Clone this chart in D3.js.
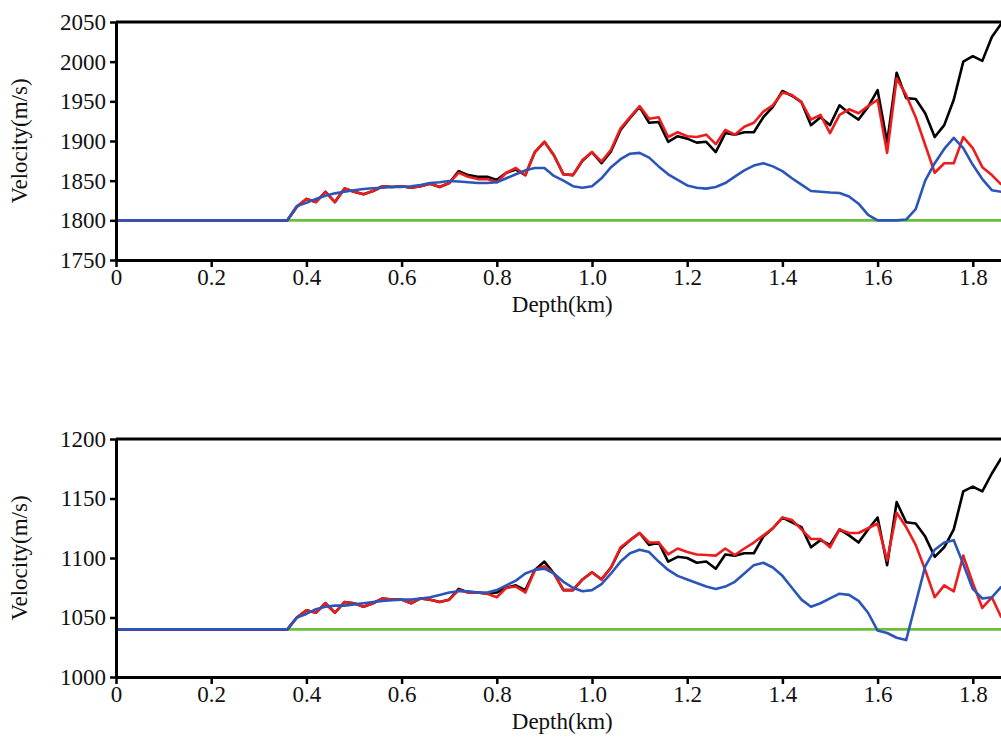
<!DOCTYPE html>
<html>
<head>
<meta charset="utf-8">
<script src="https://cdn.jsdelivr.net/npm/d3@7/dist/d3.min.js"></script>
<style>
  body { margin: 0; background: #fff; }
  svg { display: block; }
  svg text { font-family: "Times New Roman", "Liberation Serif", "DejaVu Serif", serif; }
</style>
</head>
<body>
<svg width="1001" height="737"></svg>
<script>
// depth samples (km), shared by every curve
var depth = [0, 0.36, 0.38, 0.40, 0.42, 0.44, 0.46, 0.48, 0.50, 0.52, 0.54, 0.56, 0.58, 0.60, 0.62, 0.64,
    0.66, 0.68, 0.70, 0.72, 0.74, 0.76, 0.78, 0.80, 0.82, 0.84, 0.86, 0.88, 0.90, 0.92, 0.94, 0.96, 0.98,
    1.00, 1.02, 1.04, 1.06, 1.08, 1.10, 1.12, 1.14, 1.16, 1.18, 1.20, 1.22, 1.24, 1.26, 1.28, 1.30, 1.32,
    1.34, 1.36, 1.38, 1.40, 1.42, 1.44, 1.46, 1.48, 1.50, 1.52, 1.54, 1.56, 1.58, 1.60, 1.62, 1.64, 1.66,
    1.68, 1.70, 1.72, 1.74, 1.76, 1.78, 1.80, 1.82, 1.84, 1.86];

// upper panel
var topBlack = [1800, 1800, 1817, 1827, 1823, 1836, 1823, 1840, 1836, 1833, 1837, 1843, 1842, 1843, 1841, 1843,
    1846, 1842, 1847, 1862, 1857, 1855, 1855, 1851, 1860, 1864, 1857, 1886, 1899, 1882, 1858, 1857, 1875,
    1886, 1872, 1887, 1914, 1929, 1943, 1923, 1924, 1899, 1906, 1903, 1898, 1899, 1886, 1910, 1908, 1911,
    1911, 1930, 1943, 1963, 1957, 1949, 1920, 1930, 1920, 1945, 1935, 1927, 1943, 1964, 1898, 1986, 1954,
    1953, 1935, 1905, 1920, 1952, 2000, 2007, 2001, 2031, 2048];
var topRed = [1800, 1800, 1817, 1827, 1823, 1836, 1823, 1840, 1836, 1833, 1837, 1843, 1842, 1843, 1841, 1843,
    1846, 1842, 1847, 1860, 1855, 1852, 1852, 1848, 1860, 1866, 1857, 1886, 1899, 1882, 1858, 1857, 1876,
    1886, 1874, 1889, 1916, 1930, 1944, 1928, 1930, 1905, 1911, 1906, 1905, 1908, 1896, 1914, 1908, 1918,
    1923, 1937, 1945, 1961, 1958, 1949, 1927, 1933, 1910, 1933, 1940, 1935, 1944, 1952, 1885, 1979, 1958,
    1930, 1895, 1860, 1872, 1872, 1905, 1891, 1867, 1857, 1845];
var topBlue = [1800, 1800, 1818, 1822, 1827, 1831, 1834, 1836, 1838, 1839.5, 1840.5, 1841, 1842, 1842, 1843, 1844.5,
    1847, 1848, 1849.5, 1849, 1848, 1847, 1847, 1848, 1853, 1858, 1863, 1866, 1866, 1856, 1850, 1843, 1841,
    1843, 1853, 1867, 1877, 1884, 1885, 1879, 1868, 1858, 1851, 1844, 1841, 1840, 1842, 1847, 1855, 1863,
    1869, 1872, 1868, 1862, 1853, 1845, 1837, 1836, 1835, 1834.5, 1830, 1821, 1807, 1800, 1800, 1800, 1801,
    1814, 1850, 1872, 1890, 1904, 1891, 1870, 1852, 1838, 1836];
var topGreen = 1800;
var topTicks = [1750, 1800, 1850, 1900, 1950, 2000, 2050];

// lower panel
var botBlack = [1040, 1040, 1050, 1056, 1054, 1062, 1054, 1063, 1062, 1059, 1062, 1066, 1065, 1065, 1062, 1066,
    1065, 1063, 1065, 1074, 1071, 1071, 1070, 1071, 1075, 1077, 1073, 1090, 1097, 1087, 1073, 1073, 1082,
    1088, 1082, 1092, 1108, 1115, 1121, 1111, 1113, 1097, 1101, 1100, 1096, 1097, 1091, 1103, 1102, 1104,
    1104, 1118, 1125, 1134, 1130, 1126, 1109, 1115, 1111, 1124, 1119, 1113, 1124, 1134, 1094, 1147, 1130,
    1129, 1118, 1101, 1109, 1124, 1156, 1160, 1156, 1171, 1184];
var botRed = [1040, 1040, 1050, 1056, 1054, 1062, 1054, 1063, 1062, 1059, 1062, 1066, 1065, 1065, 1062, 1066,
    1065, 1063, 1065, 1073, 1071, 1071, 1070, 1067, 1075, 1076, 1071, 1090, 1093, 1087, 1073, 1073, 1082,
    1088, 1082, 1092, 1109, 1115, 1121, 1113, 1113, 1103, 1108, 1105, 1103, 1102.5, 1102, 1108, 1102.5, 1108,
    1113, 1119, 1125, 1134, 1132, 1124, 1116, 1116, 1109, 1124, 1121, 1121, 1125, 1129, 1098, 1138, 1126,
    1111, 1090, 1067, 1077, 1072, 1102, 1079, 1058, 1067, 1050];
var botBlue = [1040, 1040, 1050, 1053, 1057, 1059, 1060, 1060, 1061, 1062, 1063, 1064, 1064.5, 1065, 1065, 1066,
    1067, 1069, 1071, 1072, 1072, 1071, 1071, 1073, 1077, 1081, 1087, 1090, 1091, 1087, 1080, 1075, 1072,
    1073, 1078, 1087, 1097, 1104, 1107, 1105, 1097, 1090, 1085, 1082, 1079, 1076, 1074, 1076, 1080, 1087,
    1094, 1096, 1092, 1085, 1075, 1065, 1059, 1062, 1066, 1070, 1069, 1064, 1054, 1039, 1037, 1033, 1031,
    1062, 1093, 1107, 1113, 1115, 1095, 1074, 1066, 1067, 1076];
var botGreen = 1040;
var botTicks = [1000, 1050, 1100, 1150, 1200];

var xTicks = [0, 0.2, 0.4, 0.6, 0.8, 1.0, 1.2, 1.4, 1.6, 1.8];
var xLabel = "Depth(km)";
var yLabel = "Velocity(m/s)";

var colors = { black: "#000000", red: "#ee1c1c", blue: "#2b55b8", green: "#6cbf3c" };
var serif = "'Times New Roman', 'Liberation Serif', 'DejaVu Serif', serif";

var svg = d3.select("svg");
var left = 116;
var x = d3.scaleLinear().domain([0, 1.875]).range([left, left + 1.875 * 476]);

function drawPanel(id, top, bottom, yDomain, yTicks, green, black, red, blue) {
    var y = d3.scaleLinear().domain(yDomain).range([bottom, top]);
    var g = svg.append("g").attr("class", "panel-" + id);

    g.append("clipPath").attr("id", "clip-" + id)
        .append("rect")
        .attr("x", left).attr("y", top - 2)
        .attr("width", x.range()[1] - left).attr("height", bottom - top + 4);

    var line = d3.line()
        .x(function (d) { return x(d[0]); })
        .y(function (d) { return y(d[1]); });

    var curves = [
        { color: colors.green, pts: [[0, green], [x.domain()[1], green]] },
        { color: colors.black, pts: d3.zip(depth, black) },
        { color: colors.red, pts: d3.zip(depth, red) },
        { color: colors.blue, pts: d3.zip(depth, blue) }
    ];

    g.append("g").attr("clip-path", "url(#clip-" + id + ")")
        .selectAll("path").data(curves).enter().append("path")
        .attr("d", function (d) { return line(d.pts); })
        .attr("fill", "none")
        .attr("stroke", function (d) { return d.color; })
        .attr("stroke-width", 2.6)
        .attr("stroke-linejoin", "round");

    // frame top edge
    g.append("line")
        .attr("x1", left).attr("x2", x.range()[1])
        .attr("y1", top).attr("y2", top)
        .attr("stroke", "black").attr("stroke-width", 3);

    var yAxis = g.append("g")
        .attr("transform", "translate(" + left + ",0)")
        .call(d3.axisLeft(y).tickValues(yTicks).tickSize(6).tickSizeOuter(0).tickPadding(4)
            .tickFormat(d3.format("d")));

    var xAxis = g.append("g")
        .attr("transform", "translate(0," + bottom + ")")
        .call(d3.axisBottom(x).tickValues(xTicks).tickSize(7).tickSizeOuter(0).tickPadding(2)
            .tickFormat(function (d) { return d === 0 ? "0" : d3.format(".1f")(d); }));

    [xAxis, yAxis].forEach(function (a) {
        a.attr("font-family", serif).attr("font-size", 23);
        a.select(".domain").attr("stroke", "black").attr("stroke-width", 3);
        a.selectAll(".tick line").attr("stroke", "black").attr("stroke-width", 2.5);
        a.selectAll(".tick text").attr("fill", "#111");
    });

    g.append("text")
        .attr("x", (x.range()[0] + x.range()[1]) / 2)
        .attr("y", bottom + 52)
        .attr("text-anchor", "middle")
        .attr("font-family", serif)
        .attr("font-size", 23)
        .attr("fill", "#111")
        .text(xLabel);

    g.append("text")
        .attr("transform", "translate(27," + (top + bottom) / 2 + ") rotate(-90)")
        .attr("text-anchor", "middle")
        .attr("font-family", serif)
        .attr("font-size", 23)
        .attr("fill", "#111")
        .text(yLabel);
}

drawPanel("top", 22, 260, [1750, 2050], topTicks, topGreen, topBlack, topRed, topBlue);
drawPanel("bot", 439, 677, [1000, 1200], botTicks, botGreen, botBlack, botRed, botBlue);
</script>
</body>
</html>
